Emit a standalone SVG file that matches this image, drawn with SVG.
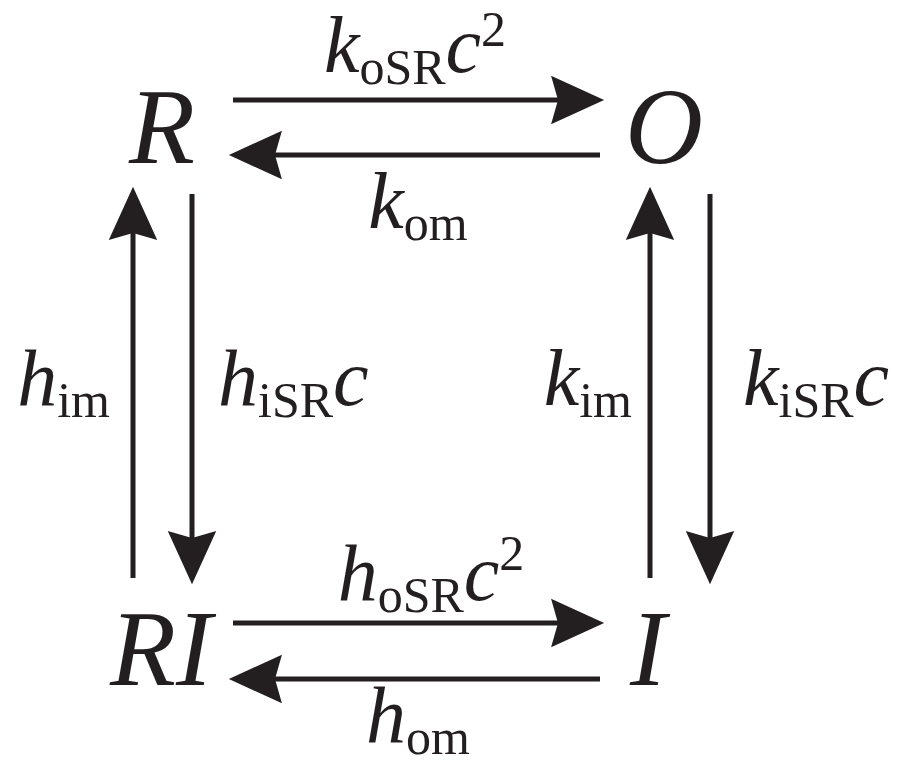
<svg xmlns="http://www.w3.org/2000/svg" width="899" height="774" viewBox="0 0 899 774">
<style>
.node{font-family:"Liberation Serif","Times New Roman",serif;font-style:italic;font-size:108px;fill:#231f20}
.lbl{font-family:"Liberation Serif","Times New Roman",serif;font-style:italic;font-size:80px;fill:#231f20}
.sub{font-style:normal;font-size:50px}
.sup{font-style:normal;font-size:50px}
.arr{stroke:#231f20;stroke-width:5;fill:none;marker-end:url(#ah)}
</style>
<defs>
<marker id="ah" markerUnits="userSpaceOnUse" markerWidth="60" markerHeight="60" viewBox="-2 -24 52 48" refX="6" refY="0" orient="auto" overflow="visible">
<path d="M0,-21 L46,0 L0,21 L6,0 Z" fill="#231f20"/>
</marker>
</defs>
<rect width="899" height="774" fill="#ffffff"/>
<g id="node-R"><text class="node" x="162" y="163" text-anchor="middle">R</text></g>
<g id="node-O"><text class="node" x="664" y="163" text-anchor="middle">O</text></g>
<g id="node-RI"><text class="node" x="161" y="685" text-anchor="middle">RI</text></g>
<g id="node-I"><text class="node" x="648" y="685" text-anchor="middle">I</text></g>
<g id="connectors">
<line class="arr" x1="233" y1="100" x2="558" y2="100"/>
<line class="arr" x1="600" y1="155" x2="275" y2="155"/>
<line class="arr" x1="133" y1="578" x2="133" y2="233"/>
<line class="arr" x1="192" y1="194" x2="192" y2="538"/>
<line class="arr" x1="650" y1="578" x2="650" y2="233"/>
<line class="arr" x1="710" y1="194" x2="710" y2="538"/>
<line class="arr" x1="233" y1="623" x2="558" y2="623"/>
<line class="arr" x1="600" y1="679" x2="275" y2="679"/>
</g>
<g id="labels">
<text class="lbl" x="415" y="72" text-anchor="middle">k<tspan class="sub" dy="12">oSR</tspan><tspan dy="-12">c</tspan><tspan class="sup" dy="-26">2</tspan></text>
<text class="lbl" x="418" y="228" text-anchor="middle">k<tspan class="sub" dy="12">om</tspan></text>
<text class="lbl" x="110" y="405" text-anchor="end">h<tspan class="sub" dy="12">im</tspan></text>
<text class="lbl" x="218" y="405">h<tspan class="sub" dy="12">iSR</tspan><tspan dy="-12">c</tspan></text>
<text class="lbl" x="632" y="405" text-anchor="end">k<tspan class="sub" dy="12">im</tspan></text>
<text class="lbl" x="743" y="405">k<tspan class="sub" dy="12">iSR</tspan><tspan dy="-12">c</tspan></text>
<text class="lbl" x="431" y="600" text-anchor="middle">h<tspan class="sub" dy="12">oSR</tspan><tspan dy="-12">c</tspan><tspan class="sup" dy="-30">2</tspan></text>
<text class="lbl" x="418" y="742" text-anchor="middle">h<tspan class="sub" dy="12">om</tspan></text>
</g>
</svg>
